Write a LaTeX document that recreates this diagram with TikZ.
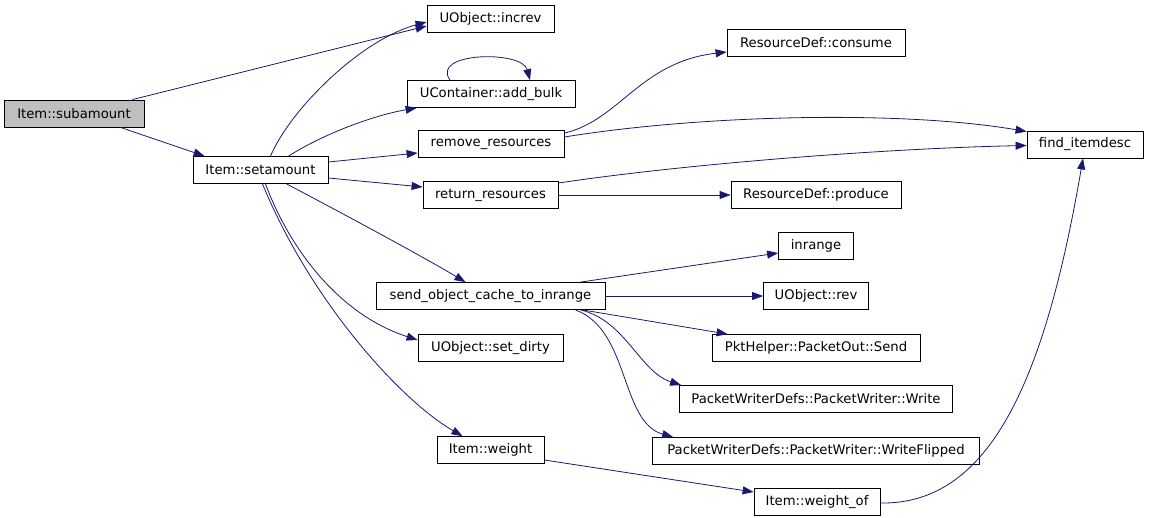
\documentclass[tikz,border=0pt]{standalone}
\usepackage{fontspec}
\setmainfont{DejaVu Sans}
\usepackage{tikz}
\usetikzlibrary{arrows.meta}
\definecolor{calledge}{HTML}{191970}
\definecolor{rootfill}{HTML}{BFBFBF}

\begin{document}
\begin{tikzpicture}[x=1pt, y=-1pt,
		fn/.style={draw, line width=0.8pt, minimum height=27pt, inner sep=0pt, font=\fontsize{13.2}{15}\selectfont},
		call/.style={->, >={Triangle[length=11pt, width=8pt]}, draw=calledge, fill=none, line width=0.8pt}]
			\useasboundingbox (0,0) rectangle (1149,517);
			\node [fn, fill=rootfill, minimum width=140pt] (subamount) at (74,113.5) {Item::subamount};
			\node [fn, minimum width=135pt] (setamount) at (260.5,170) {Item::setamount};
			\node [fn, minimum width=127pt] (increv) at (490.5,19) {UObject::increv};
			\node [fn, minimum width=168pt] (addbulk) at (491,94) {UContainer::add\_bulk};
			\node [fn, minimum width=146pt] (removeres) at (491,144) {remove\_resources};
			\node [fn, minimum width=135pt] (returnres) at (490.5,195) {return\_resources};
			\node [fn, minimum width=229pt] (sendcache) at (490.5,296) {send\_object\_cache\_to\_inrange};
			\node [fn, minimum width=145pt] (setdirty) at (490.5,348) {UObject::set\_dirty};
			\node [fn, minimum width=107pt] (weight) at (490.5,450) {Item::weight};
			\node [fn, minimum width=178pt] (consume) at (816,43) {ResourceDef::consume};
			\node [fn, minimum width=170pt] (produce) at (816,195) {ResourceDef::produce};
			\node [fn, minimum width=75pt] (inrange) at (816,246) {inrange};
			\node [fn, minimum width=105pt] (rev) at (816,296) {UObject::rev};
			\node [fn, minimum width=208pt] (send) at (816,348) {PktHelper::PacketOut::Send};
			\node [fn, minimum width=273pt] (write) at (816,399) {PacketWriterDefs::PacketWriter::Write};
			\node [fn, minimum width=327pt] (writeflip) at (816,451) {PacketWriterDefs::PacketWriter::WriteFlipped};
			\node [fn, minimum width=126pt] (weightof) at (817,502) {Item::weight\_of};
			\node [fn, minimum width=116pt] (finddesc) at (1085,144.5) {find\_itemdesc};
			
			\draw [call] ([xshift=-12pt]subamount.north east) -- ([yshift=-7pt]increv.west);
			\draw [call] ([xshift=-24pt]subamount.south east) -- ([xshift=12pt]setamount.north west);
			\draw [call] ([xshift=10pt]setamount.north) .. controls (290,110) and (360,40) .. ([yshift=-3pt]increv.west);
			\draw [call] ([xshift=28pt]setamount.north) .. controls (320,136) and (370,116) .. ([xshift=10pt]addbulk.south west);
			\draw [call] ([yshift=8pt]setamount.east) -- ([yshift=-9pt]removeres.west);
			\draw [call] ([yshift=-8pt]setamount.east) -- ([yshift=8pt]returnres.west);
			\draw [call] ([xshift=26pt]setamount.south) .. controls (340,212) and (420,255) .. ([xshift=-25pt]sendcache.north);
			\draw [call] ([xshift=5pt]setamount.south) .. controls (290,250) and (340,315) .. ([yshift=8pt]setdirty.west);
			\draw [call] ([xshift=2pt]setamount.south) .. controls (310,300) and (400,400) .. ([xshift=-28pt]weight.north);
			\draw [call] ([xshift=-41pt]addbulk.north) .. controls (430,52) and (522,50) .. ([xshift=39pt]addbulk.north);
			\draw [call] ([yshift=-3pt]removeres.north east) .. controls (620,120) and (640,62) .. ([yshift=-9pt]consume.west);
			\draw [call] ([yshift=7pt]removeres.east) .. controls (700,115) and (900,110) .. ([yshift=13pt]finddesc.west);
			\draw [call] ([yshift=12pt]returnres.east) .. controls (700,162) and (900,148) .. ([yshift=-1pt]finddesc.west);
			\draw [call] (returnres) -- (produce);
			\draw [call] ([xshift=-25pt]sendcache.north east) -- ([yshift=-7pt]inrange.west);
			\draw [call] (sendcache) -- (rev);
			\draw [call] ([xshift=-23pt]sendcache.south east) -- ([xshift=16pt]send.north west);
			\draw [call] ([xshift=-25pt]sendcache.south east) .. controls (625,320) and (640,372) .. ([xshift=2pt]write.north west);
			\draw [call] ([xshift=-30pt]sendcache.south east) .. controls (630,330) and (620,422) .. ([xshift=21pt]writeflip.north west);
			\draw [call] ([yshift=-10pt]weight.east) -- ([yshift=10pt]weightof.west);
			\draw [call] ([yshift=-1pt]weightof.east) .. controls (990,505) and (1045,380) .. ([xshift=-2pt]finddesc.south);
		\end{tikzpicture}
\end{document}
